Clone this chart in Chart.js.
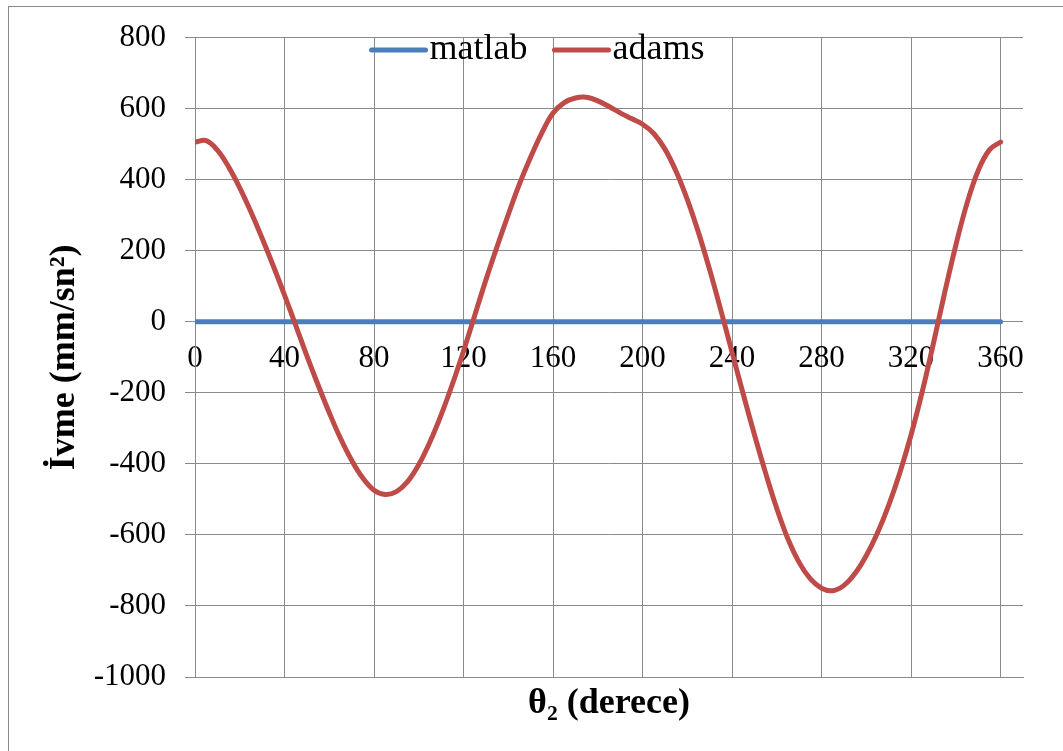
<!DOCTYPE html>
<html>
<head>
<meta charset="utf-8">
<script src="https://cdn.jsdelivr.net/npm/chart.js@4.4.1/dist/chart.umd.min.js"></script>
<style>
  html, body { margin: 0; padding: 0; background: #fff; }
  canvas { display: block; }
</style>
</head>
<body>
<canvas id="c" width="1063" height="751"></canvas>
<script>
// Crank angle (degrees)
const theta = [
  0, 5, 10, 15, 20, 25, 30, 35, 40, 45, 50, 55, 60, 65, 70, 75, 80, 85, 90,
  95, 100, 105, 110, 115, 120, 125, 130, 135, 140, 145, 150, 155, 160, 165, 170, 175, 180,
  185, 190, 195, 200, 205, 210, 215, 220, 225, 230, 235, 240, 245, 250, 255, 260, 265, 270,
  275, 280, 285, 290, 295, 300, 305, 310, 315, 320, 325, 330, 335, 340, 345, 350, 355, 360
];

// Acceleration from the ADAMS model (mm/sn²)
const adams = [
  506, 510, 483, 436, 377, 309, 235, 157, 75, -10, -96, -178, -256, -328, -390, -440, -474, -486, -478,
  -450, -402, -338, -262, -176, -82, 18, 118, 212, 302, 388, 464, 532, 588, 617, 630, 632, 622,
  606, 588, 572, 556, 530, 486, 423, 344, 251, 146, 32, -86, -204, -318, -426, -526, -612, -678,
  -724, -750, -757, -742, -708, -658, -594, -516, -424, -318, -196, -60, 82, 216, 334, 426, 484, 506
];

// Acceleration from the MATLAB script (mm/sn²)
const matlab = [
  0, 0, 0, 0, 0, 0, 0, 0, 0, 0, 0, 0, 0, 0, 0, 0, 0, 0, 0,
  0, 0, 0, 0, 0, 0, 0, 0, 0, 0, 0, 0, 0, 0, 0, 0, 0, 0,
  0, 0, 0, 0, 0, 0, 0, 0, 0, 0, 0, 0, 0, 0, 0, 0, 0, 0,
  0, 0, 0, 0, 0, 0, 0, 0, 0, 0, 0, 0, 0, 0, 0, 0, 0, 0
];

const xTicks = [0, 40, 80, 120, 160, 200, 240, 280, 320, 360];
const yTicks = [-1000, -800, -600, -400, -200, 0, 200, 400, 600, 800];

const seriesNames = ['matlab', 'adams'];
const seriesColors = ['#4A7EBB', '#BE4B48'];

const serif = "'Liberation Serif', 'Times New Roman', serif";
const gridColor = '#8a8a8a';

// White page with a thin grey frame around the chart
const framePlugin = {
  id: 'frame',
  beforeDraw(chart) {
    const ctx = chart.ctx;
    ctx.save();
    ctx.fillStyle = '#ffffff';
    ctx.fillRect(0, 0, chart.width, chart.height);
    ctx.strokeStyle = gridColor;
    ctx.lineWidth = 1;
    ctx.strokeRect(8.5, 6.5, 1200, 900);
    ctx.restore();
  }
};

// Legend laid over the top of the plot, centred on the page
const overlayLegend = {
  id: 'overlayLegend',
  afterDatasetsDraw(chart, args, opts) {
    const ctx = chart.ctx;
    const sets = chart.data.datasets;
    ctx.save();
    ctx.font = `${opts.fontSize}px ${serif}`;
    ctx.textBaseline = 'middle';
    ctx.textAlign = 'left';
    const widths = sets.map(d => ctx.measureText(d.label).width);
    let total = 0;
    widths.forEach((w, i) => {
      total += opts.lineLen + opts.gap + w;
      if (i < widths.length - 1) total += opts.itemGap;
    });
    let x = opts.centerX - total / 2;
    sets.forEach((d, i) => {
      ctx.strokeStyle = d.borderColor;
      ctx.lineWidth = d.borderWidth;
      ctx.lineCap = 'round';
      ctx.beginPath();
      ctx.moveTo(x, opts.y);
      ctx.lineTo(x + opts.lineLen, opts.y);
      ctx.stroke();
      x += opts.lineLen + opts.gap;
      ctx.fillStyle = '#000';
      ctx.fillText(d.label, x, opts.y);
      x += widths[i] + opts.itemGap;
    });
    ctx.restore();
  }
};

const toPoints = (ys) => theta.map((t, i) => ({ x: t, y: ys[i] }));
const numLabel = (v) => String(v);

new Chart(document.getElementById('c'), {
  type: 'line',
  data: {
    datasets: [
      {
        label: seriesNames[0],
        data: toPoints(matlab),
        borderColor: seriesColors[0],
        backgroundColor: seriesColors[0],
        borderWidth: 5,
        borderCapStyle: 'round',
        pointRadius: 0,
        tension: 0.4,
        order: 1,
        xAxisID: 'x',
        yAxisID: 'y'
      },
      {
        label: seriesNames[1],
        data: toPoints(adams),
        borderColor: seriesColors[1],
        backgroundColor: seriesColors[1],
        borderWidth: 5,
        borderCapStyle: 'round',
        borderJoinStyle: 'round',
        pointRadius: 0,
        tension: 0.4,
        order: 0,
        xAxisID: 'x',
        yAxisID: 'y'
      }
    ]
  },
  options: {
    responsive: false,
    animation: false,
    devicePixelRatio: 1,
    layout: { padding: { left: 0, top: 35, right: 40, bottom: 0 } },
    plugins: {
      legend: { display: false },
      tooltip: { enabled: false },
      overlayLegend: { fontSize: 36, centerX: 538, y: 50, lineLen: 54, gap: 4, itemGap: 27 }
    },
    scales: {
      x: {
        type: 'linear',
        position: 'bottom',
        min: 0,
        max: 370,
        afterBuildTicks: (s) => { s.ticks = xTicks.map(v => ({ value: v })); },
        afterFit: (s) => { s.height = 74; },
        grid: { color: gridColor, lineWidth: 1, drawTicks: false },
        border: { color: gridColor, width: 1 },
        ticks: { display: false },
        title: {
          display: true,
          text: 'θ₂ (derece)',
          color: '#000',
          font: { family: serif, size: 36, weight: 'bold' },
          padding: { top: 0, bottom: 26 }
        }
      },
      xLabels: {
        type: 'linear',
        axis: 'x',
        position: { y: 0 },
        min: 0,
        max: 370,
        afterBuildTicks: (s) => { s.ticks = xTicks.map(v => ({ value: v })); },
        grid: { display: false, drawTicks: false },
        border: { display: false },
        ticks: {
          color: '#000',
          font: { family: serif, size: 31 },
          padding: 18,
          maxRotation: 0,
          autoSkip: false,
          callback: numLabel
        }
      },
      y: {
        type: 'linear',
        min: -1000,
        max: 800,
        afterBuildTicks: (s) => { s.ticks = yTicks.map(v => ({ value: v })); },
        afterFit: (s) => { s.width = 195; },
        grid: { color: gridColor, lineWidth: 1, tickLength: 10 },
        border: { color: gridColor, width: 1 },
        ticks: {
          color: '#000',
          font: { family: serif, size: 31 },
          padding: 19,
          callback: numLabel
        },
        title: {
          display: true,
          text: 'İvme (mm/sn²)',
          color: '#000',
          font: { family: serif, size: 36, weight: 'bold' },
          padding: { top: 43, bottom: 0 }
        }
      }
    }
  },
  plugins: [framePlugin, overlayLegend]
});
</script>
</body>
</html>
